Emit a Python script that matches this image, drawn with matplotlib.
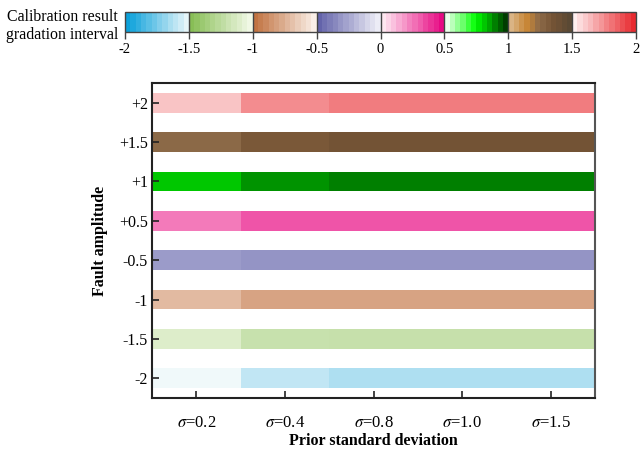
import numpy as np
import matplotlib
matplotlib.use("Agg")
import matplotlib.pyplot as plt
from matplotlib.colors import ListedColormap, Normalize, BoundaryNorm
from matplotlib.cm import ScalarMappable

plt.rcParams["font.family"] = ["Liberation Serif", "DejaVu Serif"]
plt.rcParams["mathtext.fontset"] = "stix"

# ---- data -------------------------------------------------------------
sigma_labels = [r"$\sigma$=0.2", r"$\sigma$=0.4", r"$\sigma$=0.8", r"$\sigma$=1.0", r"$\sigma$=1.5"]
amplitude_labels = ["+2", "+1.5", "+1", "+0.5", "-0.5", "-1", "-1.5", "-2"]

# calibration results, one list per fault amplitude (σ = 0.2 ... 1.5)
res_p2 = [1.63, 1.765, 1.80, 1.80, 1.80]
res_p15 = [1.25, 1.33, 1.36, 1.36, 1.36]
res_p1 = [0.82, 0.875, 0.90, 0.90, 0.90]
res_p05 = [0.245, 0.325, 0.325, 0.325, 0.325]
res_m05 = [-0.30, -0.325, -0.325, -0.325, -0.325]
res_m1 = [-0.725, -0.805, -0.805, -0.805, -0.805]
res_m15 = [-1.125, -1.215, -1.225, -1.225, -1.225]
res_m2 = [-1.51, -1.61, -1.65, -1.65, -1.65]
results = [res_p2, res_p15, res_p1, res_p05, res_m05, res_m1, res_m15, res_m2]

cbar_ticks = [-2, -1.5, -1, -0.5, 0, 0.5, 1, 1.5, 2]
cbar_ticklabels = ["-2", "-1.5", "-1", "-0.5", "0", "0.5", "1", "1.5", "2"]

# ---- piecewise gradation colour map ------------------------------------
segments = [
    [(0.0, (10, 160, 218)), (1.0, (246, 251, 251))],
    [(0.0, (135, 190, 85)), (1.0, (248, 252, 240))],
    [(0.0, (192, 112, 62)), (1.0, (253, 246, 241))],
    [(0.0, (96, 96, 168)), (1.0, (244, 244, 250))],
    [(0.0, (255, 240, 245)), (1.0, (230, 0, 126))],
    [(0.0, (255, 255, 255)), (0.5, (0, 255, 0)), (1.0, (0, 45, 0))],
    [(0.0, (222, 190, 150)), (0.3, (200, 135, 55)), (0.5, (140, 106, 72)),
     (0.7, (118, 84, 53)), (1.0, (88, 72, 52))],
    [(0.0, (255, 250, 250)), (1.0, (232, 40, 45))],
]
fine_steps = 64
colors = []
for seg in segments:
    pos = np.array([p for p, _ in seg])
    rgb = np.array([c for _, c in seg], dtype=float) / 255.0
    t = (np.arange(fine_steps) + 0.5) / fine_steps
    for ti in t:
        colors.append([np.interp(ti, pos, rgb[:, k]) for k in range(3)])
cmap = ListedColormap(colors)
norm = Normalize(vmin=-2, vmax=2)

# ---- figure -------------------------------------------------------------
fig = plt.figure(figsize=(6.42, 4.5), dpi=100)
ax = fig.add_axes([0.2368, 0.1156, 0.6902, 0.7000])

bar_h = 0.5
for i, row in enumerate(results):
    for j, v in enumerate(row):
        ax.barh(i, 1.0, left=j - 0.5, height=bar_h, color=cmap(norm(v)),
                edgecolor="none", linewidth=0)

ax.set_xlim(-0.5, len(sigma_labels) - 0.5)
ax.set_ylim(len(amplitude_labels) - 0.5, -0.5)
ax.set_xticks(range(len(sigma_labels)))
ax.set_xticklabels(sigma_labels, fontsize=12)
ax.set_yticks(range(len(amplitude_labels)))
ax.set_yticklabels(amplitude_labels, fontsize=11.5)
ax.tick_params(axis="both", direction="in", length=5, width=1.2, color="#222222")
ax.tick_params(axis="x", pad=12)
ax.tick_params(axis="y", pad=3)
for side in ["left", "bottom", "top"]:
    ax.spines[side].set_color("#222222")
    ax.spines[side].set_linewidth(1.5)
ax.spines["right"].set_color("#555555")
ax.spines["right"].set_linewidth(1.5)
ax.set_xlabel("Prior standard deviation", fontsize=11.5, fontweight="bold", labelpad=2)
ax.set_ylabel("Fault amplitude", fontsize=11.5, fontweight="bold", labelpad=8)

# ---- gradation colour bar (banded: 12 steps per interval) --------------
cax = fig.add_axes([0.1947, 0.9289, 0.7960, 0.0444])
band_edges = np.linspace(-2, 2, 8 * 12 + 1)
band_norm = BoundaryNorm(band_edges, cmap.N)
cb = fig.colorbar(ScalarMappable(norm=band_norm, cmap=cmap), cax=cax,
                  orientation="horizontal", spacing="proportional")
cb.set_ticks(cbar_ticks)
cb.set_ticklabels(cbar_ticklabels)
cb.outline.set_edgecolor("#444444")
cb.outline.set_linewidth(1.0)
cax.minorticks_off()
cax.tick_params(axis="x", direction="out", length=5, width=1.0, color="#444444",
                labelsize=10.5, pad=3)
for b in cbar_ticks[1:-1]:
    cax.axvline(b, color="#444444", linewidth=1.0)
fig.text(0.184, 0.942, "Calibration result\ngradation interval", ha="right", va="center",
         fontsize=11.4, linespacing=1.2)

fig.savefig("out.png", dpi=100)
